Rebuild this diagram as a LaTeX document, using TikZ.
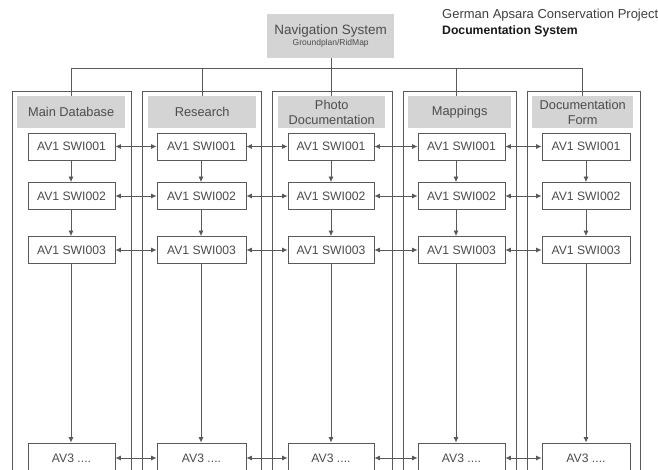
\documentclass[tikz,border=0pt]{standalone}
\usepackage{fontspec}
\setmainfont{Liberation Sans}
\usetikzlibrary{arrows.meta}
\begin{document}
\begin{tikzpicture}[x=1pt,y=-1pt,
  ln/.style={draw=black!65,line width=0.8pt},
  colbox/.style={ln,anchor=north west,minimum width=119pt,minimum height=400pt,inner sep=0pt},
  hdr/.style={fill=black!17,anchor=north west,minimum height=32pt,inner sep=0pt,align=center,text=black!70,font=\fontsize{12.8}{14.5}\selectfont},
  inbox/.style={ln,fill=white,minimum width=87pt,minimum height=27pt,inner sep=0pt,text=black!70,font=\fontsize{12.2}{14}\selectfont},
  arr/.style={ln,-{Latex[length=5.5pt,width=5pt]}},
  darr/.style={ln,{Latex[length=5.5pt,width=5pt]}-{Latex[length=5.5pt,width=5pt]}}]
\useasboundingbox (0,0) rectangle (658,470);
\fill[white] (0,0) rectangle (658,470);

% title
\node[anchor=west,inner sep=0pt,text=black!75,font=\fontsize{13}{15}\selectfont] (t1) at (442,15) {German Apsara Conservation Project};
\node[anchor=west,inner sep=0pt,text=black!90,font=\bfseries\fontsize{12.2}{14}\selectfont] (t2) at (442,31) {Documentation System};

% navigation
\node[fill=black!17,anchor=north west,minimum width=127pt,minimum height=44pt,inner sep=0pt,align=center,text=black!70] (nav) at (267,14)
  {{\fontsize{13.5}{15}\selectfont Navigation System}\\[-1pt]{\fontsize{8.5}{10}\selectfont Groundplan/RidMap}};

% columns
\node[colbox] (c1) at (11.7,91) {};
\node[colbox] (c2) at (141.7,91) {};
\node[colbox,minimum width=120pt] (c3) at (271.7,91) {};
\node[colbox,minimum width=113.3pt] (c4) at (402.7,91) {};
\node[colbox,minimum width=113.3pt] (c5) at (526.7,91) {};

% headers
\node[hdr,minimum width=108pt] (h1) at (17,96) {Main Database};
\node[hdr,minimum width=108pt] (h2) at (148,96) {Research};
\node[hdr,minimum width=107pt] (h3) at (278,96) {Photo\\Documentation};
\node[hdr,minimum width=103pt] (h4) at (408,96) {Mappings};
\node[hdr,minimum width=101pt] (h5) at (532,96) {Documentation\\Form};

% bus
\coordinate (busL) at (71,68);
\coordinate (d4) at (456,96);
\draw[ln] (h1.north) -- (h1.north |- busL) -- (h5.north |- busL) -- (h5.north);
\draw[ln] (h2.north) -- (h2.north |- busL);
\draw[ln] (nav.south -| h3.north) -- (h3.north);
\draw[ln] (d4) -- (d4 |- busL);

% arrow x positions
\coordinate (x1) at (71,0);
\coordinate (x2) at (201,0);
\coordinate (x3) at (331,0);
\coordinate (x4) at (456,0);
\coordinate (x5) at (586,0);

% inner boxes
\foreach \c/\x/\w in {1/71.5/87,2/201.5/89,3/331/86,4/461.5/87,5/586/88}{
  \node[inbox,minimum width=\w pt] (b\c1) at (\x,146.5) {AV1 SWI001};
  \node[inbox,minimum width=\w pt] (b\c2) at (\x,196) {AV1 SWI002};
  \node[inbox,minimum width=\w pt] (b\c3) at (\x,250) {AV1 SWI003};
  \node[inbox,minimum width=\w pt,minimum height=30pt] (b\c4) at (\x,458) {AV3 ....};
}

% vertical arrows
\foreach \c in {1,2,3,4,5}{
  \draw[arr] (b\c1.south -| x\c) -- (b\c2.north -| x\c);
  \draw[arr] (b\c2.south -| x\c) -- (b\c3.north -| x\c);
  \draw[arr] (b\c3.south -| x\c) -- (b\c4.north -| x\c);
}

% horizontal double arrows
\foreach \a/\b in {1/2,2/3,3/4,4/5}{
  \foreach \r in {1,2,3,4}{
    \draw[darr] (b\a\r.east) -- (b\b\r.west);
  }
}
\end{tikzpicture}
\end{document}
